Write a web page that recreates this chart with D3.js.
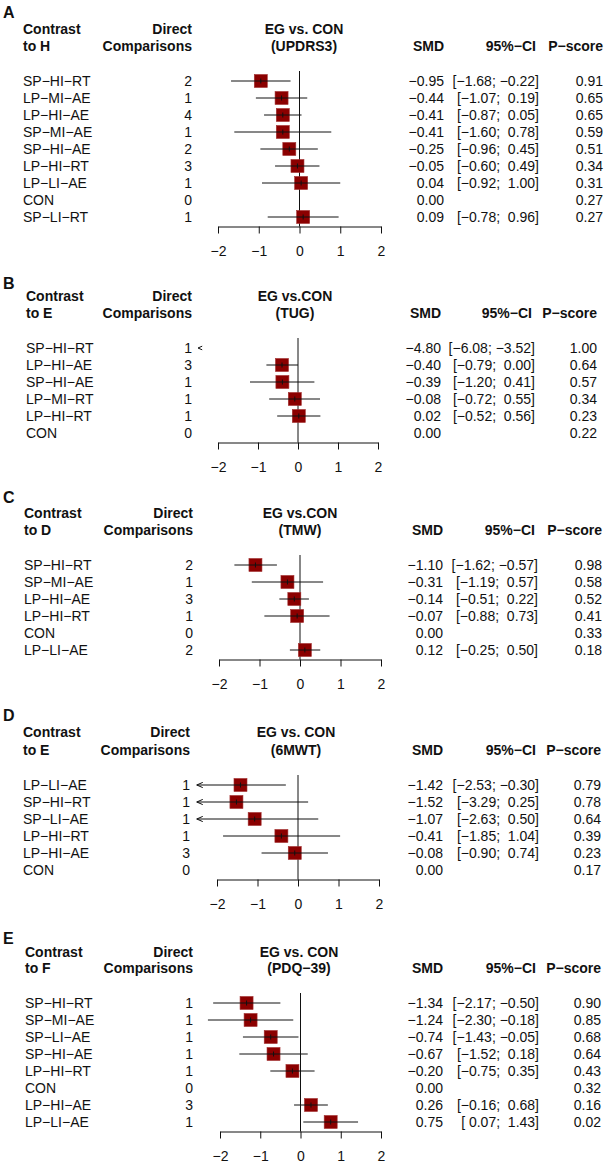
<!DOCTYPE html>
<html><head><meta charset="utf-8">
<script src="https://cdn.jsdelivr.net/npm/d3@7"></script>
<style>
html,body{margin:0;padding:0;background:#fff;}
svg text{font-family:"Liberation Sans",Arial,Helvetica,sans-serif;fill:#111;}
</style></head>
<body>
<svg id="c" width="608" height="1167"></svg>
<script>
// ---------- DATA ----------
const panelLetters = ["A","B","C","D","E"];
const contrastTo = ["to H","to E","to D","to E","to F"];
const titles1 = ["EG vs. CON","EG vs.CON","EG vs.CON","EG vs. CON","EG vs. CON"];
const titles2 = ["(UPDRS3)","(TUG)","(TMW)","(6MWT)","(PDQ\u221239)"];
const tickLabels = [-2,-1,0,1,2];

const labelsA = ["SP-HI-RT","LP-MI-AE","LP-HI-AE","SP-MI-AE","SP-HI-AE","LP-HI-RT","LP-LI-AE","CON","SP-LI-RT"];
const directA = [2,1,4,1,2,3,1,0,1];
const smdA = [-0.95,-0.44,-0.41,-0.41,-0.25,-0.05,0.04,0.00,0.09];
const loA = [-1.68,-1.07,-0.87,-1.60,-0.96,-0.60,-0.92,null,-0.78];
const hiA = [-0.22,0.19,0.05,0.78,0.45,0.49,1.00,null,0.96];
const pA = [0.91,0.65,0.65,0.59,0.51,0.34,0.31,0.27,0.27];

const labelsB = ["SP-HI-RT","LP-HI-AE","SP-HI-AE","LP-MI-RT","LP-HI-RT","CON"];
const directB = [1,3,1,1,1,0];
const smdB = [-4.80,-0.40,-0.39,-0.08,0.02,0.00];
const loB = [-6.08,-0.79,-1.20,-0.72,-0.52,null];
const hiB = [-3.52,0.00,0.41,0.55,0.56,null];
const pB = [1.00,0.64,0.57,0.34,0.23,0.22];

const labelsC = ["SP-HI-RT","SP-MI-AE","LP-HI-AE","LP-HI-RT","CON","LP-LI-AE"];
const directC = [2,1,3,1,0,2];
const smdC = [-1.10,-0.31,-0.14,-0.07,0.00,0.12];
const loC = [-1.62,-1.19,-0.51,-0.88,null,-0.25];
const hiC = [-0.57,0.57,0.22,0.73,null,0.50];
const pC = [0.98,0.58,0.52,0.41,0.33,0.18];

const labelsD = ["LP-LI-AE","SP-HI-RT","SP-LI-AE","LP-HI-RT","LP-HI-AE","CON"];
const directD = [1,1,1,1,3,0];
const smdD = [-1.42,-1.52,-1.07,-0.41,-0.08,0.00];
const loD = [-2.53,-3.29,-2.63,-1.85,-0.90,null];
const hiD = [-0.30,0.25,0.50,1.04,0.74,null];
const pD = [0.79,0.78,0.64,0.39,0.23,0.17];

const labelsE = ["SP-HI-RT","SP-MI-AE","SP-LI-AE","SP-HI-AE","LP-HI-RT","CON","LP-HI-AE","LP-LI-AE"];
const directE = [1,1,1,1,1,0,3,1];
const smdE = [-1.34,-1.24,-0.74,-0.67,-0.20,0.00,0.26,0.75];
const loE = [-2.17,-2.30,-1.43,-1.52,-0.75,null,-0.16,0.07];
const hiE = [-0.50,-0.18,-0.05,0.18,0.35,null,0.68,1.43];
const pE = [0.90,0.85,0.68,0.64,0.43,0.32,0.16,0.02];

// ---------- LAYOUT ----------
const panels = [
  {labels:labelsA,direct:directA,smd:smdA,lo:loA,hi:hiA,p:pA, letterY:12,  h1:29,  h2:46,  x0:218,x1:381, lx:23, dx:192, tx:304, sx:444, cx:539, px:603},
  {labels:labelsB,direct:directB,smd:smdB,lo:loB,hi:hiB,p:pB, letterY:283, h1:296, h2:313, x0:218,x1:378, lx:26, dx:192, tx:295, sx:441, cx:535, px:597},
  {labels:labelsC,direct:directC,smd:smdC,lo:loC,hi:hiC,p:pC, letterY:497, h1:513, h2:530, x0:219,x1:381, lx:24, dx:193, tx:300, sx:443, cx:538, px:602},
  {labels:labelsD,direct:directD,smd:smdD,lo:loD,hi:hiD,p:pD, letterY:715, h1:732, h2:750, x0:217,x1:379, lx:23, dx:190, tx:296, sx:443, cx:539, px:601},
  {labels:labelsE,direct:directE,smd:smdE,lo:loE,hi:hiE,p:pE, letterY:938, h1:952, h2:968, x0:220,x1:381, lx:25, dx:193, tx:299, sx:443, cx:539, px:601}
];

const svg = d3.select("#c");
svg.append("rect").attr("width",608).attr("height",1167).attr("fill","#fff");

const FS = 14;
const f2 = d3.format(".2f");
const pad = v => v < 0 ? f2(v) : " " + f2(v);
const dash = s => s.replace(/-/g, "\u2212");
const DY = "0.36em";
const XLIM = [-2.5, 2.5];

panels.forEach((P, k) => {
  const g = svg.append("g");
  const rowStep = 17;
  const firstRow = P.h2 + 35;
  const n = P.labels.length;
  const y = d3.scalePoint().domain(d3.range(n)).range([firstRow, firstRow + rowStep*(n-1)]);
  const x = d3.scaleLinear().domain([-2, 2]).range([P.x0, P.x1]);
  const axisY = firstRow + rowStep*(n-1) + 9.5;

  // panel letter
  g.append("text").attr("x", 3).attr("y", P.letterY).attr("dy", DY)
    .attr("font-size", 16).attr("font-weight", "bold").text(panelLetters[k]);

  // headers
  const hb = (txt, xx, yy, anchor) => g.append("text").attr("x", xx).attr("y", yy).attr("dy", DY)
    .attr("font-size", FS).attr("font-weight", "bold").attr("text-anchor", anchor).text(txt);
  hb("Contrast", P.lx, P.h1, "start");
  hb(contrastTo[k], P.lx, P.h2, "start");
  hb("Direct", P.dx, P.h1, "end");
  hb("Comparisons", P.dx, P.h2, "end");
  hb(titles1[k], P.tx, P.h1, "middle");
  hb(titles2[k], P.tx, P.h2, "middle");
  hb("SMD", P.sx, P.h2, "end");
  hb("95%\u2212CI", P.cx - 3, P.h2, "end");
  hb("P\u2212score", P.px, P.h2, "end");

  const rows = d3.range(n);
  const tn = (xx, anchor, fn) => g.append("g").selectAll("text").data(rows).join("text")
    .attr("x", xx).attr("y", i => y(i)).attr("dy", DY).attr("font-size", FS)
    .attr("text-anchor", anchor).style("white-space", "pre").text(fn);
  tn(P.lx, "start", i => dash(P.labels[i]));
  tn(P.dx, "end", i => P.direct[i]);
  tn(P.sx, "end", i => f2(P.smd[i]));
  tn(P.cx, "end", i => P.lo[i] == null ? "" : "[" + pad(P.lo[i]) + "; " + pad(P.hi[i]) + "]");
  tn(P.px, "end", i => f2(P.p[i]));

  // zero line
  g.append("line").attr("x1", x(0)).attr("x2", x(0))
    .attr("y1", firstRow - 10).attr("y2", axisY).attr("stroke", "#111").attr("stroke-width", 1);

  // squares
  const sq = 13;
  const vis = rows.filter(i => P.lo[i] != null && P.smd[i] >= XLIM[0] && P.smd[i] <= XLIM[1]);
  g.append("g").selectAll("rect").data(vis).join("rect")
    .attr("x", i => x(P.smd[i]) - sq/2).attr("y", i => y(i) - sq/2)
    .attr("width", sq).attr("height", sq)
    .attr("fill", "#8b0000").attr("stroke", "#a23030").attr("stroke-width", 0.6);

  // CI lines, arrows
  rows.forEach(i => {
    const lo = P.lo[i], hi = P.hi[i];
    if (lo == null) return;
    const yy = y(i);
    const L = Math.max(lo, XLIM[0]), H = Math.min(hi, XLIM[1]);
    const ah = 6, aw = 2.6;
    if (H > L) {
      g.append("line").attr("x1", x(L)).attr("x2", x(H)).attr("y1", yy).attr("y2", yy)
        .attr("stroke", "#111").attr("stroke-width", 1);
    }
    if (lo < XLIM[0]) {
      const xa = x(XLIM[0]);
      const s = H > L ? 1 : 0.7;
      g.append("path").attr("d", `M${xa+ah*s},${yy-aw*s}L${xa},${yy}L${xa+ah*s},${yy+aw*s}`)
        .attr("fill", "none").attr("stroke", "#111").attr("stroke-width", 1);
    }
    if (hi > XLIM[1]) {
      const xa = x(XLIM[1]);
      g.append("path").attr("d", `M${xa-ah},${yy-aw}L${xa},${yy}L${xa-ah},${yy+aw}`)
        .attr("fill", "none").attr("stroke", "#111").attr("stroke-width", 1);
    }
    if (P.smd[i] >= XLIM[0] && P.smd[i] <= XLIM[1]) {
      g.append("line").attr("x1", x(P.smd[i])).attr("x2", x(P.smd[i]))
        .attr("y1", yy - 2.5).attr("y2", yy + 2.5).attr("stroke", "#111").attr("stroke-width", 1);
    }
  });

  // axis
  const ax = g.append("g").attr("transform", `translate(0,${axisY})`)
    .call(d3.axisBottom(x).tickValues(tickLabels).tickFormat(d3.format("d"))
      .tickSize(7).tickSizeOuter(0).tickPadding(13));
  ax.selectAll("path,line").attr("stroke", "#111");
  ax.selectAll("text").attr("font-size", FS)
    .attr("font-family", "'Liberation Sans',Arial,Helvetica,sans-serif").attr("fill", "#111");
});
</script>
</body></html>
